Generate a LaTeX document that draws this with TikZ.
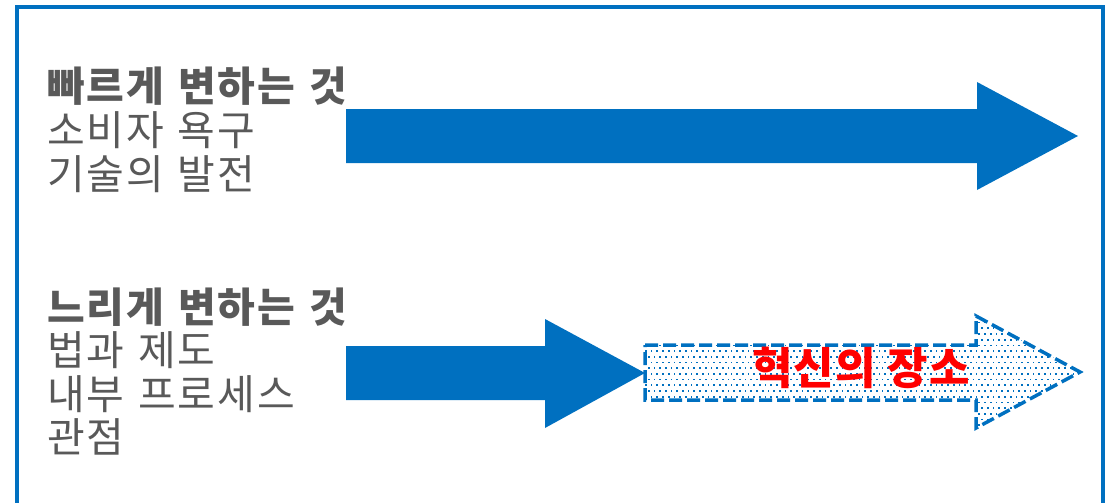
\documentclass[tikz,border=0pt]{standalone}
\usepackage{fontspec}
\newfontfamily\kr{Noto Sans CJK KR}[LetterSpace=5, WordSpace=1.2]
\newfontfamily\krred{Noto Sans CJK KR}[LetterSpace=3]
\definecolor{myblue}{HTML}{0070C0}
\definecolor{mygray}{HTML}{595959}
\definecolor{myred}{HTML}{FF0000}
\begin{document}
\begin{tikzpicture}[x=1pt,y=-1pt,
  lbl/.style={inner sep=0pt, anchor=base west, text=mygray, font=\kr\fontsize{41}{45}\selectfont},
  lblb/.style={lbl, font=\kr\bfseries\fontsize{41}{45}\selectfont},
  solidarrow/.style={fill=myblue, draw=none},
  dasharrow/.style={draw=myblue, line width=3.5pt, dash pattern=on 13pt off 5pt, line join=miter},
  dot/.style={fill=myblue}]
\useasboundingbox (0,0) rectangle (1109,503);
\begin{scope}
\clip (0,0) rectangle (1109,503);
\draw[myblue, line width=4pt] (17,7) rectangle (1103,530);
\end{scope}
% top block
\node[lblb] (t1) at (47,102) {빠르게 변하는 것};
\node[lbl] (t2) at (47,145) {소비자 욕구};
\node[lbl] (t3) at (47,189) {기술의 발전};
% bottom block
\node[lblb] (b1) at (47,322) {느리게 변하는 것};
\node[lbl] (b2) at (47,365) {법과 제도};
\node[lbl] (b3) at (47,409) {내부 프로세스};
\node[lbl] (b4) at (47,452) {관점};
% arrows
\path[solidarrow] (346,109) -- (977,109) -- (977,82) -- (1078,136) -- (977,190) -- (977,163) -- (346,163) -- cycle;
\path[solidarrow] (346,346) -- (545,346) -- (545,319) -- (645,373) -- (545,428) -- (545,400) -- (346,400) -- cycle;
\begin{scope}
\clip (645,345) -- (976,345) -- (976,316) -- (1080,372) -- (976,428) -- (976,400) -- (645,400) -- cycle;
\foreach \r in {0,...,19} {
  \pgfmathsetmacro{\yy}{316+\r*5.7}
  \pgfmathsetmacro{\off}{mod(\r,2)*2.85}
  \foreach \c in {0,...,76} {
    \fill[dot] ({645+\off+\c*5.7},\yy) rectangle ++(1.7,1.7);
  }
}
\end{scope}
\draw[dasharrow] (645,345) -- (976,345) -- (976,316) -- (1080,372) -- (976,428) -- (976,400) -- (645,400) -- cycle;
\node[inner sep=0pt, anchor=base, text=myred, font=\krred\bfseries\fontsize{44}{48}\selectfont] (inno) at (861,384) {혁신의 장소};
\end{tikzpicture}
\end{document}
